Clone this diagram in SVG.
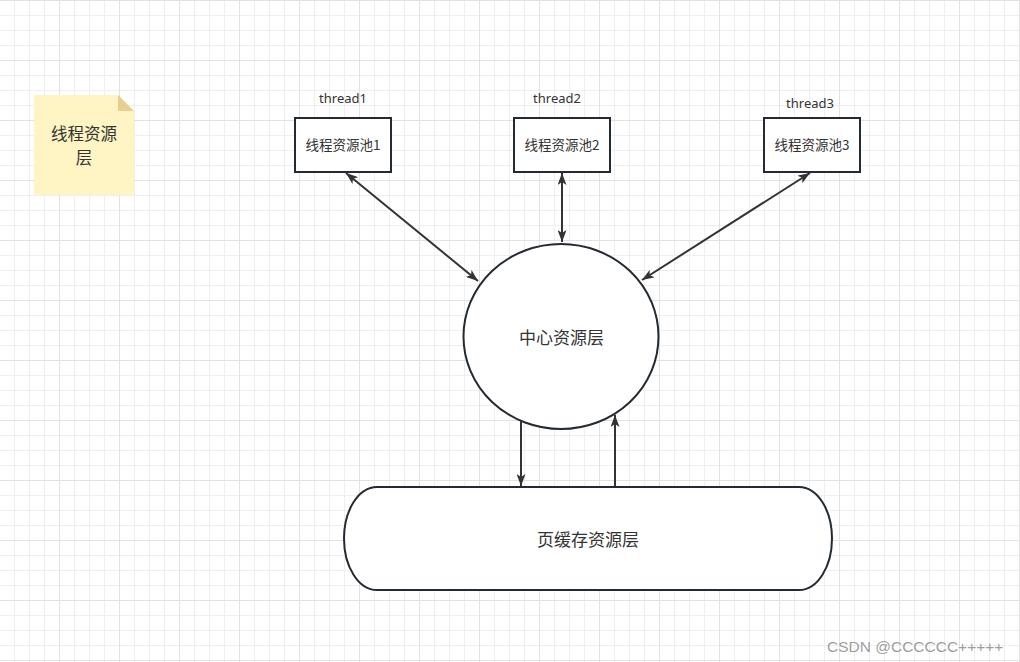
<svg xmlns="http://www.w3.org/2000/svg" width="1020" height="662" viewBox="0 0 1020 662">
  <defs>
    <pattern id="minor" patternUnits="userSpaceOnUse" x="-1" y="0" width="15" height="15">
      <rect x="0" y="0" width="1" height="15" fill="#efefef"/>
      <rect x="0" y="0" width="15" height="1" fill="#efefef"/>
    </pattern>
    <pattern id="major" patternUnits="userSpaceOnUse" x="-1" y="0" width="60" height="60">
      <rect x="0" y="0" width="1" height="60" fill="#e2e2e2"/>
      <rect x="0" y="0" width="60" height="1" fill="#e2e2e2"/>
    </pattern>
    <marker id="arrow" viewBox="0 0 12 9" refX="12" refY="4.5" markerWidth="12" markerHeight="9" markerUnits="userSpaceOnUse" orient="auto-start-reverse">
      <path d="M0,0 L12,4.5 L0,9 L3,4.5 Z" fill="#333333"/>
    </marker>
    <style>
      .shape { fill: #ffffff; stroke: #232a31; stroke-width: 2; }
      .cn { font-family: "Noto Sans CJK SC", "Noto Sans", sans-serif; fill: #333333; text-anchor: middle; dominant-baseline: central; }
      .lat { font-family: "Noto Sans", "Noto Sans CJK SC", sans-serif; fill: #333333; text-anchor: middle; font-size: 13px; }
      .conn { stroke: #333333; stroke-width: 2; fill: none; }
    </style>
  </defs>

  <rect x="0" y="0" width="1020" height="662" fill="#ffffff"/>
  <rect x="0" y="0" width="1020" height="662" fill="url(#minor)"/>
  <rect x="0" y="0" width="1020" height="662" fill="url(#major)"/>

  <g id="note">
    <path d="M34,95 L118,95 L134,111 L134,195 L34,195 Z" fill="#fff4c3"/>
    <path d="M118,95 L134,111 L118,111 Z" fill="#e6d08f"/>
    <text class="cn" x="84" y="133" font-size="16.5">线程资源</text>
    <text class="cn" x="84" y="157" font-size="16.5">层</text>
  </g>

  <g id="pool1">
    <text class="lat" x="343" y="103">thread1</text>
    <rect class="shape" x="295" y="118" width="96" height="54"/>
    <text class="cn" x="343" y="144" font-size="13.5">线程资源池1</text>
  </g>

  <g id="pool2">
    <text class="lat" x="557" y="103">thread2</text>
    <rect class="shape" x="514" y="118" width="96" height="54"/>
    <text class="cn" x="562" y="144" font-size="13.5">线程资源池2</text>
  </g>

  <g id="pool3">
    <text class="lat" x="810" y="108">thread3</text>
    <rect class="shape" x="764" y="118" width="96" height="54"/>
    <text class="cn" x="812" y="144" font-size="13.5">线程资源池3</text>
  </g>

  <g id="center">
    <ellipse class="shape" cx="561" cy="336.5" rx="97.5" ry="92.5"/>
    <text class="cn" x="561.5" y="336" font-size="17">中心资源层</text>
  </g>

  <g id="pagecache">
    <path class="shape" d="M377,487 L799,487 A33,51.5 0 0 1 799,590 L377,590 A33,51.5 0 0 1 377,487 Z"/>
    <text class="cn" x="588" y="538" font-size="17">页缓存资源层</text>
  </g>

  <g id="connectors">
    <line class="conn" x1="346" y1="173" x2="478" y2="281" marker-start="url(#arrow)" marker-end="url(#arrow)"/>
    <line class="conn" x1="562" y1="173" x2="562" y2="242" marker-start="url(#arrow)" marker-end="url(#arrow)"/>
    <line class="conn" x1="810" y1="173" x2="642" y2="280" marker-start="url(#arrow)" marker-end="url(#arrow)"/>
    <line class="conn" x1="521" y1="421" x2="521" y2="486" marker-end="url(#arrow)"/>
    <line class="conn" x1="615" y1="486" x2="615" y2="415" marker-end="url(#arrow)"/>
  </g>

  <text x="827" y="652" font-family="Liberation Sans, Arial, sans-serif" font-size="15.5" fill="#8c8c8c" fill-opacity="0.85">CSDN @CCCCCC+++++</text>
</svg>
